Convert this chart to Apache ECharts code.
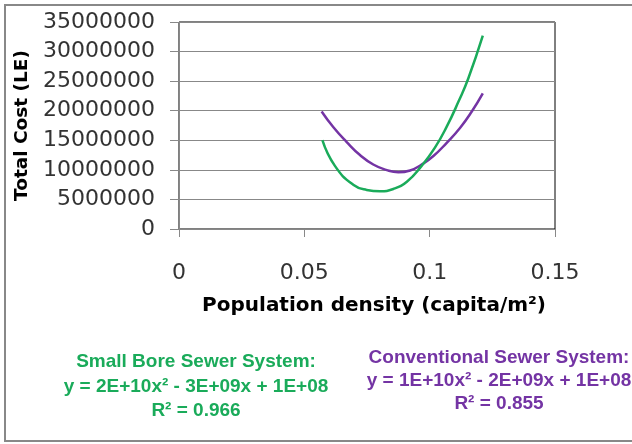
<!DOCTYPE html>
<html>
<head>
<meta charset="utf-8">
<script src="https://cdn.jsdelivr.net/npm/echarts@6/dist/echarts.min.js"></script>
<style>
  html, body { margin: 0; padding: 0; background: #fff; }
  #chart-container { width: 632px; height: 444px; }
</style>
</head>
<body>
<div id="chart-container"></div>
<script>
// Values (x = capita/m2, y = LE)
const smallBoreX = [0.0572, 0.0622, 0.0695, 0.0749, 0.0802, 0.0855, 0.0909, 0.0968, 0.1021, 0.1068, 0.1115, 0.1154, 0.1212];
const smallBoreY = [15020000, 10670000, 7490000, 6610000, 6390000, 6770000, 8000000, 10670000, 13750000, 17300000, 21540000, 25450000, 32690000];

const conventionalX = [0.0569, 0.0616, 0.0669, 0.0722, 0.0775, 0.0829, 0.0875, 0.0922, 0.0968, 0.1015, 0.1068, 0.1121, 0.1168, 0.1212];
const conventionalY = [19870000, 17200000, 14700000, 12500000, 10900000, 9950000, 9600000, 9900000, 10900000, 12340000, 14580000, 17090000, 19870000, 22940000];

const smallBoreLabel = ['Small Bore Sewer System:', 'y = 2E+10x\u00b2 - 3E+09x + 1E+08', 'R\u00b2 = 0.966'];
const conventionalLabel = ['Conventional Sewer System:', 'y = 1E+10x\u00b2 - 2E+09x + 1E+08', 'R\u00b2 = 0.855'];

const green = '#1aab5a';
const purple = '#7434a4';

const chartContainer = document.getElementById('chart-container');
const myChart = echarts.init(chartContainer);

// pair x/y arrays into points
function pairs(xs, ys) {
  return xs.map((x, i) => [x, ys[i]]);
}

// annotation text lines
function textLines(lines, cx, ys, color) {
  return lines.map((t, i) => ({
    type: 'text',
    x: cx,
    y: ys[i],
    style: {
      text: t,
      fill: color,
      font: 'bold 19px "Liberation Sans"',
      textAlign: 'center',
      textVerticalAlign: 'middle'
    }
  }));
}

const option = {
  animation: false,
  grid: {
    left: 179,
    top: 22,
    right: 77,
    bottom: 215,
    show: true,
    borderColor: '#000',
    borderWidth: 1
  },
  xAxis: {
    type: 'value',
    min: 0,
    max: 0.15,
    interval: 0.05,
    name: 'Population density (capita/m\u00b2)',
    nameLocation: 'middle',
    nameGap: 67,
    nameTextStyle: { fontFamily: 'DejaVu Sans', fontWeight: 'bold', fontSize: 20, color: '#000', padding: [0, 0, 0, 14] },
    axisLine: { lineStyle: { color: '#888' } },
    axisTick: { show: true, length: 8, lineStyle: { color: '#888' } },
    axisLabel: { fontFamily: 'DejaVu Sans', fontSize: 22, color: '#333', margin: 33 },
    splitLine: { show: false }
  },
  yAxis: {
    type: 'value',
    min: 0,
    max: 35000000,
    interval: 5000000,
    name: 'Total Cost (LE)',
    nameLocation: 'middle',
    nameGap: 135,
    nameTextStyle: { fontFamily: 'DejaVu Sans', fontWeight: 'bold', fontSize: 18.5, color: '#000' },
    axisLine: { show: true, lineStyle: { color: '#888' } },
    axisTick: { show: true, length: 9, lineStyle: { color: '#888' } },
    axisLabel: { fontFamily: 'DejaVu Sans', fontSize: 22, color: '#333', margin: 24, formatter: v => String(v) },
    splitLine: { lineStyle: { color: '#888', width: 1 } }
  },
  series: [
    {
      name: 'Conventional Sewer System',
      type: 'line',
      data: pairs(conventionalX, conventionalY),
      smooth: 0.5,
      symbol: 'none',
      lineStyle: { color: purple, width: 2.5 }
    },
    {
      name: 'Small Bore Sewer System',
      type: 'line',
      data: pairs(smallBoreX, smallBoreY),
      smooth: 0.5,
      symbol: 'none',
      lineStyle: { color: green, width: 2.5 }
    }
  ],
  graphic: [
    {
      type: 'rect',
      shape: { x: 5, y: 5, width: 640, height: 436 },
      style: { fill: 'none', stroke: '#888', lineWidth: 2 },
      silent: true
    }
  ]
    .concat(textLines(smallBoreLabel, 196, [362, 387, 411], green))
    .concat(textLines(conventionalLabel, 499, [358, 381, 404], purple))
};

myChart.setOption(option);
</script>
</body>
</html>
